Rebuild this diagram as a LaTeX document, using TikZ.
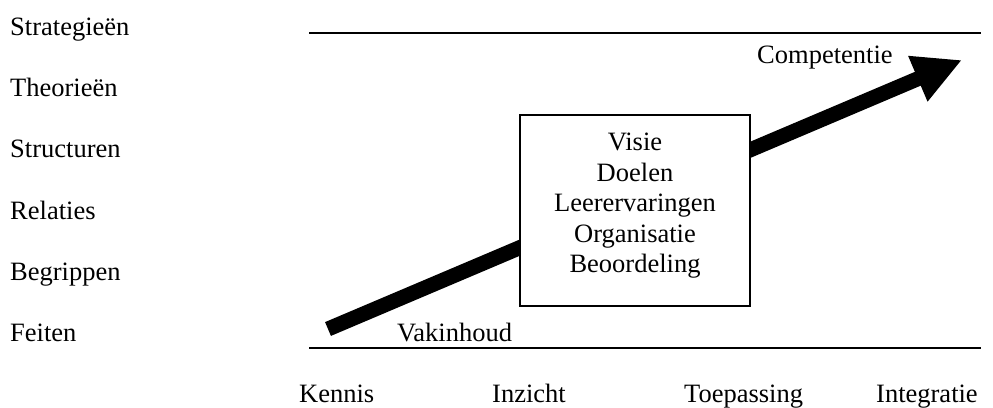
\documentclass[tikz,border=0pt]{standalone}
\usepackage{fontspec}
\setmainfont{Liberation Serif}
\usetikzlibrary{arrows.meta}
\begin{document}
\begin{tikzpicture}[x=1pt,y=-1pt,
  every node/.style={inner sep=0pt, font=\fontsize{26.5}{30.4}\selectfont},
  lbl/.style={anchor=base west},
  axisline/.style={line width=1.5pt},
  bigarrow/.style={line width=15pt, -{Triangle[length=48pt,width=46pt]}},
  framebox/.style={draw, line width=1.5pt, fill=white, minimum width=230pt, minimum height=191pt}]
\useasboundingbox (0,0) rectangle (993,407);
% level labels
\node[lbl] (l6) at (10,35.5) {Strategieën};
\node[lbl] (l5) at (10,96.7) {Theorieën};
\node[lbl] (l4) at (10,157.9) {Structuren};
\node[lbl] (l3) at (10,219.1) {Relaties};
\node[lbl] (l2) at (10,280.3) {Begrippen};
\node[lbl] (l1) at (10,341.5) {Feiten};
% horizontal lines
\coordinate (tl) at (309,33);
\coordinate (tr) at (981,33);
\coordinate (bl) at (309,348);
\coordinate (br) at (981,348);
\draw[axisline] (tl) -- (tr);
\draw[axisline] (bl) -- (br);
% bottom labels
\node[lbl] (k1) at (299,402) {Kennis};
\node[lbl] (k2) at (492,402) {Inzicht};
\node[lbl] (k3) at (684,402) {Toepassing};
\node[lbl] (k4) at (876,402) {Integratie};
% arrow
\coordinate (tail) at (328,329);
\coordinate (tip) at (962,60);
\draw[bigarrow] (tail) -- (tip);
% box
\node[framebox] (box) at (635,210.5) {};
\node[anchor=base, align=center] (boxtext) at (635,272.5) {Visie\\Doelen\\Leerervaringen\\Organisatie\\Beoordeling};
% arrow labels
\node[lbl] (vak) at (397,341.5) {Vakinhoud};
\node[lbl] (comp) at (757,63) {Competentie};
\end{tikzpicture}
\end{document}
